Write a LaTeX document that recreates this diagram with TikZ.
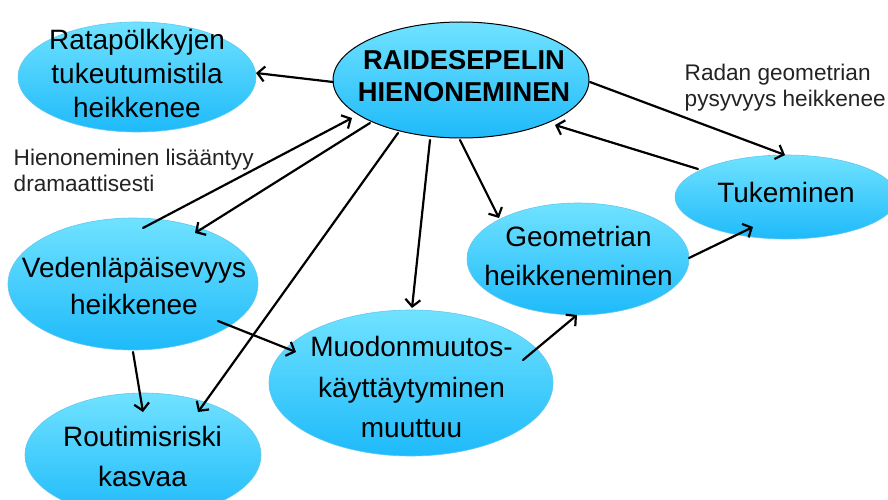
\documentclass[tikz,border=0pt]{standalone}
\usepackage{fontspec}
\setmainfont{Liberation Sans}
\usetikzlibrary{shapes.geometric,arrows.meta}
\definecolor{topc}{RGB}{112,226,255}
\definecolor{botc}{RGB}{30,186,250}
\definecolor{rimc}{RGB}{95,200,240}
\definecolor{labc}{RGB}{35,35,35}
\begin{document}
\begin{tikzpicture}[x=1pt,y=-1pt,
  blob/.style={ellipse, inner sep=0, draw=rimc, line width=0.6pt, top color=topc, bottom color=botc},
  etxt/.style={align=center, inner sep=0, font=\fontsize{28}{#1}\selectfont},
  lab/.style={align=left, inner sep=0, anchor=north west, text=labc, font=\fontsize{22.6}{26}\selectfont},
  arr/.style={line width=2.2pt, line cap=round, -{Straight Barb[length=7pt,width=15pt]}}
]
\path[use as bounding box] (0,0) rectangle (888,500);
\clip (0,0) rectangle (888,500);
\fill[white] (0,0) rectangle (888,500);

% ellipses
\node[blob, minimum width=238, minimum height=110] (rata) at (137,77) {};
\node[blob, draw=black, line width=1pt, minimum width=256, minimum height=116] (cent) at (461,80) {};
\node[blob, minimum width=222, minimum height=84] (tuk) at (786,197) {};
\node[blob, minimum width=222, minimum height=112] (geo) at (578,259) {};
\node[blob, minimum width=250, minimum height=132] (ved) at (133,284) {};
\node[blob, minimum width=284, minimum height=146] (muo) at (411,383) {};
\node[blob, minimum width=236, minimum height=124] (rou) at (143,455) {};

% texts
\node[etxt=34] (rata-t) at (137,73.8) {Ratapölkkyjen\\tukeutumistila\\heikkenee};
\node[align=center, inner sep=0, font=\fontsize{27.3}{32}\selectfont\bfseries] (cent-t) at (464,76.2) {RAIDESEPELIN\\HIENONEMINEN};
\node[etxt=34] (tuk-t) at (786,192.8) {Tukeminen};
\node[etxt=39] (geo-t) at (578.5,256.3) {Geometrian\\heikkeneminen};
\node[etxt=37] (ved-t) at (134,286.3) {Vedenläpäisevyys\\heikkenee};
\node[etxt=40.5] (muo-t) at (411.5,387.3) {Muodonmuutos-\\käyttäytyminen\\muuttuu};
\node[etxt=40] (rou-t) at (142.5,456.8) {Routimisriski\\kasvaa};

% free labels
\node[lab] (lab1) at (13.5,148.5) {Hienoneminen lisääntyy\\dramaattisesti};
\node[lab] (lab2) at (684.5,64.2) {Radan geometrian\\pysyvyys heikkenee};

% connectors
\draw[arr] ([shift={(-128,2)}]cent.center) -- ([shift={(119,-4)}]rata.center);
\draw[arr] ([shift={(129,2)}]cent.center) -- ([shift={(-1,-42)}]tuk.center);
\draw[arr] ([shift={(-88,-28)}]tuk.center) -- ([shift={(94,45)}]cent.center);
\draw[arr] ([shift={(10,-56)}]ved.center) -- ([shift={(-109,38)}]cent.center);
\draw[arr] ([shift={(-91,43)}]cent.center) -- ([shift={(62,-51)}]ved.center);
\draw[arr] ([shift={(-63,53)}]cent.center) -- ([shift={(55,-43)}]rou.center);
\draw[arr] ([shift={(-31,60)}]cent.center) -- ([shift={(1,-75)}]muo.center);
\draw[arr] ([shift={(-1,60)}]cent.center) -- ([shift={(-79,-41)}]geo.center);
\draw[arr] ([shift={(0,68)}]ved.center) -- ([shift={(0,-43)}]rou.center);
\draw[arr] ([shift={(85,37)}]ved.center) -- ([shift={(-115,-31)}]muo.center);
\draw[arr] ([shift={(112,-23)}]muo.center) -- ([shift={(-1,56)}]geo.center);
\draw[arr] ([shift={(111,-1)}]geo.center) -- ([shift={(-33,30)}]tuk.center);
\end{tikzpicture}
\end{document}
